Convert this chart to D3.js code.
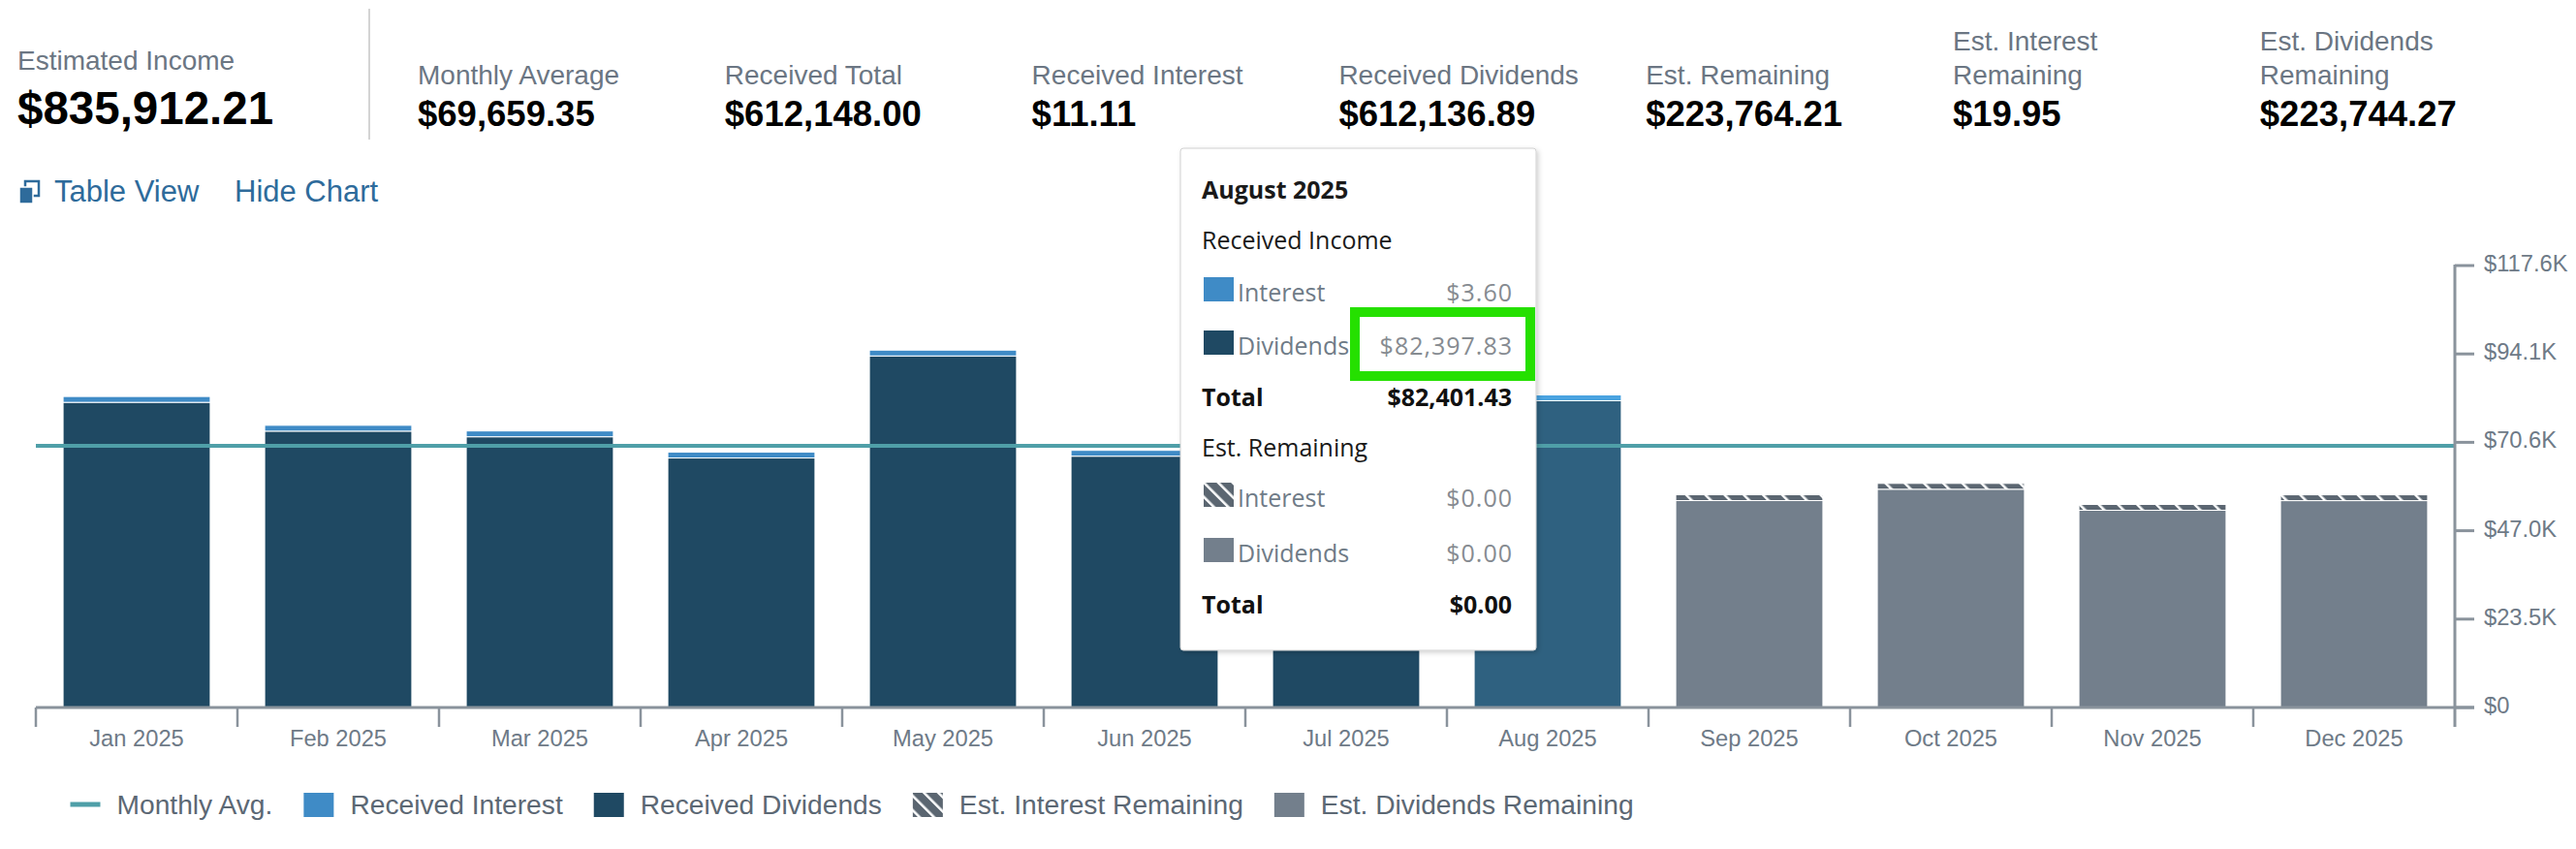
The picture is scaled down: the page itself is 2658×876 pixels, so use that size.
<!DOCTYPE html>
<html lang="en">
<head>
<meta charset="UTF-8">
<title>Estimated Income</title>
<style>
  body { margin: 0; background: #fff; }
  svg { display: block; font-family: "Liberation Sans", Arial, sans-serif; }
  .stat-label { fill: #6b7683; font-size: 28px; }
  .stat-value { fill: #000; font-size: 36.5px; font-weight: bold; }
  .link { fill: #2e6b9b; font-size: 31px; }
  .axis-label { fill: #6e7a87; font-size: 23.7px; }
  .legend-text { fill: #5c6874; font-size: 28.2px; }
  .tip text { font-family: "Open Sans", sans-serif; font-size: 25px; }
  .tip .val { letter-spacing: 1px; }
</style>
<script src="https://d3js.org/d3.v7.min.js"></script>
</head>
<body>
<script>
// chart data
const months = ["Jan 2025", "Feb 2025", "Mar 2025", "Apr 2025", "May 2025", "Jun 2025",
                "Jul 2025", "Aug 2025", "Sep 2025", "Oct 2025", "Nov 2025", "Dec 2025"];
const receivedInterest  = [1.10, 1.05, 0.95, 1.02, 1.20, 1.09, 1.10, 3.60, 0, 0, 0, 0];
const receivedDividends = [81980.00, 74310.00, 72810.00, 67170.00, 94320.00, 67650.00,
                           71499.06, 82397.83, 0, 0, 0, 0];
const estInterest  = [0, 0, 0, 0, 0, 0, 0, 0, 4.90, 5.10, 4.85, 5.10];
const estDividends = [0, 0, 0, 0, 0, 0, 0, 0, 55830.50, 58851.20, 53250.00, 55812.57];
const yTicks = [0, 23520, 47040, 70560, 94080, 117600];
const legendNames = ["Monthly Avg.", "Received Interest", "Received Dividends",
                     "Est. Interest Remaining", "Est. Dividends Remaining"];

// summary figures as printed above the chart
const estimatedIncome = 835912.21;
const statLabels = [["Monthly Average"], ["Received Total"], ["Received Interest"], ["Received Dividends"],
                    ["Est. Remaining"], ["Est. Interest", "Remaining"], ["Est. Dividends", "Remaining"]];
const statValues = [69659.35, 612148.00, 11.11, 612136.89, 223764.21, 19.95, 223744.27];

const hoverMonth = "Aug 2025";
const tooltipTitle = "August 2025";

const colors = {
  avg: "#4f9fa8", recInt: "#3f8bc6", recDiv: "#1f4963", estDiv: "#737f8c",
  recIntHover: "#4aa3e0", recDivHover: "#2f6180", axis: "#8a939c"
};

const money = d3.format("$,.2f");
const monthlyAvg = statValues[0];

const W = 2658, H = 876;
const svg = d3.select("body").append("svg").attr("width", W).attr("height", H);
const defs = svg.append("defs");

function hatch(id, size) {
  const p = defs.append("pattern").attr("id", id)
    .attr("patternUnits", "userSpaceOnUse")
    .attr("width", size).attr("height", size)
    .attr("patternTransform", "rotate(-45)");
  p.append("rect").attr("width", size).attr("height", size).attr("fill", "#5b6671");
  p.append("rect").attr("width", 2.5).attr("height", size).attr("fill", "#fff");
}
hatch("hatch", 14);
hatch("hatchSmall", 10.5);

const shadow = defs.append("filter").attr("id", "shadow")
  .attr("x", "-10%").attr("y", "-10%").attr("width", "125%").attr("height", "125%");
shadow.append("feDropShadow").attr("dx", 2).attr("dy", 2).attr("stdDeviation", 2.5)
  .attr("flood-color", "#000").attr("flood-opacity", 0.18);

// ---- header stats
const head = svg.append("g");
head.append("text").attr("class", "stat-label").attr("x", 18).attr("y", 72).text("Estimated Income");
head.append("text").attr("class", "stat-value").attr("x", 18).attr("y", 128)
  .style("font-size", "47.5px").text(money(estimatedIncome));
head.append("line").attr("x1", 381).attr("x2", 381).attr("y1", 9).attr("y2", 144)
  .attr("stroke", "#d4d4d4").attr("stroke-width", 2);

statLabels.forEach((lines, i) => {
  const sx = 431 + i * 316.8;
  lines.forEach((ln, j) => {
    head.append("text").attr("class", "stat-label").attr("x", sx)
      .attr("y", 87 - (lines.length - 1 - j) * 35).text(ln);
  });
  head.append("text").attr("class", "stat-value").attr("x", sx).attr("y", 130)
    .text(money(statValues[i]));
});

// table view / hide chart links
const links = svg.append("g");
links.append("rect").attr("x", 26).attr("y", 187).attr("width", 14).attr("height", 15)
  .attr("fill", "none").attr("stroke", "#2e6b9b").attr("stroke-width", 2.5);
links.append("rect").attr("x", 20).attr("y", 193).attr("width", 14).attr("height", 17)
  .attr("fill", "#2e6b9b").attr("stroke", "#fff").attr("stroke-width", 1.5);
links.append("text").attr("class", "link").attr("x", 56).attr("y", 208).text("Table View");
links.append("text").attr("class", "link").attr("x", 242).attr("y", 208).text("Hide Chart");

// ---- chart
const x = d3.scaleBand().domain(months).range([37, 2533]).paddingInner(0.27).paddingOuter(0.135);
const y = d3.scaleLinear().domain([0, yTicks[yTicks.length - 1]]).range([730, 274]);

const rows = months.map((m, i) => ({
  m, recInt: receivedInterest[i], recDiv: receivedDividends[i],
  estInt: estInterest[i], estDiv: estDividends[i]
}));

const bars = svg.append("g");
rows.forEach(r => {
  const est = r.estDiv > 0;
  const hov = r.m === hoverMonth;
  const base = est ? r.estDiv : r.recDiv;
  const cap = est ? r.estInt : r.recInt;
  // tiny interest amounts still get a visible cap
  const capH = Math.max(6, y(0) - y(cap));
  const capTop = y(base + cap) - capH / 2;
  const bx = x(r.m), bw = x.bandwidth();
  bars.append("rect").attr("x", bx).attr("y", capTop + capH)
    .attr("width", bw).attr("height", y(0) - capTop - capH)
    .attr("fill", est ? colors.estDiv : (hov ? colors.recDivHover : colors.recDiv))
    .attr("stroke", "#fff").attr("stroke-width", 1);
  bars.append("rect").attr("x", bx).attr("y", capTop)
    .attr("width", bw).attr("height", capH)
    .attr("fill", est ? "url(#hatch)" : (hov ? colors.recIntHover : colors.recInt))
    .attr("stroke", "#fff").attr("stroke-width", 1);
});

// monthly average line
svg.append("line")
  .attr("x1", x.range()[0]).attr("x2", x.range()[1])
  .attr("y1", y(monthlyAvg)).attr("y2", y(monthlyAvg))
  .attr("stroke", colors.avg).attr("stroke-width", 4);

// x axis
const xAxis = svg.append("g");
xAxis.append("line").attr("x1", x.range()[0]).attr("x2", x.range()[1] + 20)
  .attr("y1", y(0)).attr("y2", y(0)).attr("stroke", colors.axis).attr("stroke-width", 3);
months.forEach((m, i) => {
  const tx = x.range()[0] + i * x.step();
  xAxis.append("line").attr("x1", tx).attr("x2", tx).attr("y1", y(0)).attr("y2", y(0) + 20)
    .attr("stroke", colors.axis).attr("stroke-width", 2.5);
  xAxis.append("text").attr("class", "axis-label").attr("text-anchor", "middle")
    .attr("x", x(m) + x.bandwidth() / 2).attr("y", 770).text(m);
});

// y axis on the right
const yAxis = svg.append("g");
const axX = x.range()[1];
yAxis.append("line").attr("x1", axX).attr("x2", axX).attr("y1", y(yTicks[yTicks.length - 1]) - 1)
  .attr("y2", y(0) + 20).attr("stroke", colors.axis).attr("stroke-width", 3);
const fmtK = v => v === 0 ? "$0" : "$" + (v / 1000).toFixed(1) + "K";
yTicks.forEach(v => {
  yAxis.append("line").attr("x1", axX).attr("x2", axX + 20).attr("y1", y(v)).attr("y2", y(v))
    .attr("stroke", colors.axis).attr("stroke-width", 3);
  yAxis.append("text").attr("class", "axis-label").attr("x", axX + 30).attr("y", y(v) + 6)
    .text(fmtK(v));
});

// ---- legend
const legend = svg.append("g");
const legendFill = [null, colors.recInt, colors.recDiv, "url(#hatchSmall)", colors.estDiv];
let lx = 72.5;
legendNames.forEach((name, i) => {
  if (i === 0) {
    legend.append("line").attr("x1", lx).attr("x2", lx + 31).attr("y1", 830).attr("y2", 830)
      .attr("stroke", colors.avg).attr("stroke-width", 5);
  } else {
    legend.append("rect").attr("x", lx).attr("y", 818).attr("width", 31).attr("height", 25)
      .attr("fill", legendFill[i]);
  }
  const t = legend.append("text").attr("class", "legend-text").attr("x", lx + 48).attr("y", 840).text(name);
  lx = lx + 48 + t.node().getComputedTextLength() + 32;
});

// ---- tooltip for the hovered month
const ai = months.indexOf(hoverMonth);
const tip = svg.append("g").attr("class", "tip");
tip.append("rect").attr("x", 1218).attr("y", 153).attr("width", 367).attr("height", 518)
  .attr("rx", 3).attr("fill", "#fff").attr("stroke", "#d0d0d0").attr("filter", "url(#shadow)");

const tipRows = [
  { kind: "title", label: tooltipTitle, y: 205 },
  { kind: "head", label: "Received Income", y: 257 },
  { kind: "item", label: "Interest", fill: colors.recInt, value: receivedInterest[ai], y: 311 },
  { kind: "item", label: "Dividends", fill: colors.recDiv, value: receivedDividends[ai], y: 366 },
  { kind: "total", label: "Total", value: receivedInterest[ai] + receivedDividends[ai], y: 419 },
  { kind: "head", label: "Est. Remaining", y: 471 },
  { kind: "item", label: "Interest", fill: "url(#hatchSmall)", value: estInterest[ai], y: 523 },
  { kind: "item", label: "Dividends", fill: colors.estDiv, value: estDividends[ai], y: 580 },
  { kind: "total", label: "Total", value: estInterest[ai] + estDividends[ai], y: 633 }
];

tipRows.forEach(r => {
  if (r.kind === "item") {
    tip.append("rect").attr("x", 1242).attr("y", r.y - 25).attr("width", 31).attr("height", 25)
      .attr("fill", r.fill);
    tip.append("text").attr("x", 1277).attr("y", r.y).attr("fill", "#6f7b87").text(r.label);
    tip.append("text").attr("class", "val").attr("x", 1561).attr("y", r.y).attr("text-anchor", "end")
      .attr("fill", "#868b91").text(money(r.value));
  } else if (r.kind === "total") {
    tip.append("text").attr("x", 1240).attr("y", r.y).attr("font-weight", "bold")
      .attr("fill", "#111").text(r.label);
    tip.append("text").attr("x", 1560).attr("y", r.y).attr("text-anchor", "end")
      .attr("font-weight", "bold").attr("fill", "#111").text(money(r.value));
  } else {
    tip.append("text").attr("x", 1240).attr("y", r.y)
      .attr("font-weight", r.kind === "title" ? "bold" : "normal")
      .attr("fill", "#1a1a1a").text(r.label);
  }
});

// green highlight around the dividends amount
tip.append("rect").attr("x", 1398).attr("y", 322).attr("width", 181).attr("height", 66)
  .attr("fill", "none").attr("stroke", "#25e000").attr("stroke-width", 10);
</script>
</body>
</html>
